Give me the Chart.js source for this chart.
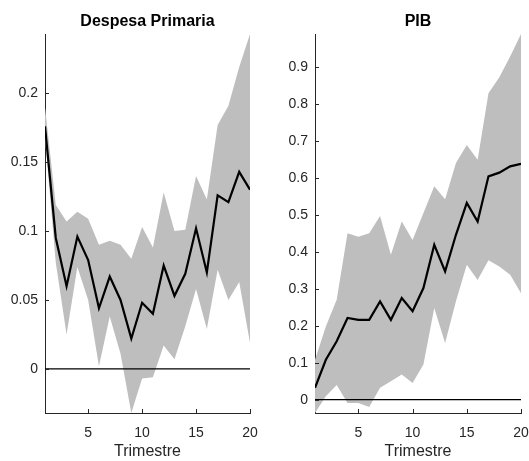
<!DOCTYPE html>
<html>
<head>
<meta charset="utf-8">
<script src="https://cdn.jsdelivr.net/npm/chart.js@4"></script>
<style>
  body { margin: 0; background: #fff; }
  #wrap { position: relative; width: 529px; height: 461px; }
  canvas { position: absolute; top: 0; }
  #left-chart { left: 0; }
  #right-chart { left: 265px; }
</style>
</head>
<body>
<div id="wrap">
  <canvas id="left-chart" width="265" height="461"></canvas>
  <canvas id="right-chart" width="264" height="461"></canvas>
</div>
<script>
// Impulse responses (median + band), quarters 1..20
const trimestres = [1, 2, 3, 4, 5, 6, 7, 8, 9, 10, 11, 12, 13, 14, 15, 16, 17, 18, 19, 20];
const xTicks = [5, 10, 15, 20];

// Despesa Primaria
const despesaMedian = [0.176, 0.095, 0.060, 0.096, 0.079, 0.044, 0.067, 0.050, 0.022, 0.048, 0.040, 0.075, 0.053, 0.069, 0.102, 0.070, 0.126, 0.121, 0.143, 0.130];
const despesaUpper  = [0.190, 0.119, 0.107, 0.114, 0.109, 0.090, 0.093, 0.090, 0.080, 0.103, 0.088, 0.128, 0.100, 0.101, 0.140, 0.123, 0.177, 0.191, 0.219, 0.243];
const despesaLower  = [0.168, 0.077, 0.025, 0.074, 0.050, 0.002, 0.038, 0.011, -0.032, -0.007, -0.006, 0.017, 0.007, 0.031, 0.058, 0.029, 0.072, 0.050, 0.063, 0.019];
const despesaYTicks = [0, 0.05, 0.1, 0.15, 0.2];
const despesaYLabels = ['0', '0.05', '0.1', '0.15', '0.2'];

// PIB
const pibMedian = [0.032, 0.108, 0.158, 0.221, 0.216, 0.216, 0.266, 0.216, 0.275, 0.239, 0.302, 0.419, 0.347, 0.446, 0.532, 0.482, 0.604, 0.614, 0.631, 0.638];
const pibUpper  = [0.108, 0.198, 0.270, 0.450, 0.441, 0.450, 0.497, 0.392, 0.482, 0.432, 0.505, 0.577, 0.542, 0.640, 0.689, 0.649, 0.829, 0.872, 0.928, 0.989];
const pibLower  = [-0.036, 0.009, 0.040, -0.009, -0.009, -0.020, 0.032, 0.050, 0.068, 0.045, 0.095, 0.248, 0.153, 0.266, 0.365, 0.324, 0.377, 0.360, 0.338, 0.288];
const pibYTicks = [0, 0.1, 0.2, 0.3, 0.4, 0.5, 0.6, 0.7, 0.8, 0.9];
const pibYLabels = ['0', '0.1', '0.2', '0.3', '0.4', '0.5', '0.6', '0.7', '0.8', '0.9'];

const AXIS_COLOR = '#262626';
const BAND_COLOR = '#bebebe';
const FONT = '"Liberation Sans", Arial, sans-serif';
Chart.defaults.font.family = FONT;

function toPoints(values) {
    return trimestres.map((t, i) => ({ x: t, y: values[i] }));
}

// MATLAB style ticks pointing into the plot area, title centred on the axes
const matlabAxes = {
    id: 'matlabAxes',
    afterDatasetsDraw(chart, args, opts) {
        const ctx = chart.ctx;
        const area = chart.chartArea;
        const xs = chart.scales.x, ys = chart.scales.y;
        ctx.save();
        ctx.strokeStyle = AXIS_COLOR;
        ctx.lineWidth = 1;
        ctx.beginPath();
        xs.ticks.forEach(t => {
            const px = Math.round(xs.getPixelForValue(t.value)) + 0.5;
            ctx.moveTo(px, area.bottom);
            ctx.lineTo(px, area.bottom - 4);
        });
        ys.ticks.forEach(t => {
            const py = Math.round(ys.getPixelForValue(t.value)) + 0.5;
            ctx.moveTo(area.left, py);
            ctx.lineTo(area.left + 4, py);
        });
        ctx.stroke();

        ctx.fillStyle = '#000';
        ctx.font = 'bold 16px ' + FONT;
        ctx.textAlign = 'center';
        ctx.textBaseline = 'middle';
        ctx.fillText(opts.text, (area.left + area.right) / 2, 22);
        ctx.restore();
    }
};

function makeChart(canvasId, title, median, upper, lower, yTicks, yLabels, yWidth, padRight) {
    const ctx = document.getElementById(canvasId).getContext('2d');
    return new Chart(ctx, {
        type: 'line',
        data: {
            datasets: [
                {
                    data: toPoints(median),
                    borderColor: '#000',
                    borderWidth: 2.2,
                    pointRadius: 0,
                    fill: false,
                    tension: 0,
                    order: 0
                },
                {
                    data: [{ x: 1, y: 0 }, { x: 20, y: 0 }],
                    borderColor: '#000',
                    borderWidth: 1.2,
                    pointRadius: 0,
                    fill: false,
                    order: 1
                },
                {
                    data: toPoints(upper),
                    borderWidth: 0,
                    borderColor: 'rgba(0,0,0,0)',
                    backgroundColor: BAND_COLOR,
                    pointRadius: 0,
                    fill: '+1',
                    order: 2
                },
                {
                    data: toPoints(lower),
                    borderWidth: 0,
                    borderColor: 'rgba(0,0,0,0)',
                    pointRadius: 0,
                    fill: false,
                    order: 3
                }
            ]
        },
        options: {
            responsive: false,
            animation: false,
            layout: { padding: { left: 0, right: padRight, top: 34, bottom: 0 } },
            plugins: {
                legend: { display: false },
                tooltip: { enabled: false },
                title: { display: false },
                matlabAxes: { text: title }
            },
            scales: {
                x: {
                    type: 'linear',
                    min: 1,
                    max: 20,
                    afterBuildTicks: scale => { scale.ticks = xTicks.map(v => ({ value: v })); },
                    afterFit: scale => {
                        scale.height = 48;
                        scale.paddingLeft = 0;
                        scale.paddingRight = 0;
                    },
                    grid: { display: false, drawTicks: false },
                    border: { display: true, color: AXIS_COLOR, width: 1 },
                    ticks: { color: AXIS_COLOR, font: { size: 14 }, padding: 12, maxRotation: 0 },
                    title: {
                        display: true,
                        text: 'Trimestre',
                        color: AXIS_COLOR,
                        font: { size: 16 },
                        padding: { top: 0, bottom: 0 }
                    }
                },
                y: {
                    type: 'linear',
                    min: Math.min(...lower),
                    max: Math.max(...upper),
                    afterBuildTicks: scale => { scale.ticks = yTicks.map(v => ({ value: v })); },
                    afterFit: scale => {
                        scale.width = yWidth;
                        scale.paddingTop = 0;
                        scale.paddingBottom = 0;
                    },
                    grid: { display: false, drawTicks: false },
                    border: { display: true, color: AXIS_COLOR, width: 1 },
                    ticks: {
                        color: AXIS_COLOR,
                        font: { size: 14 },
                        padding: 7,
                        callback: value => yLabels[yTicks.indexOf(value)]
                    }
                }
            }
        },
        plugins: [matlabAxes]
    });
}

makeChart('left-chart', 'Despesa Primaria', despesaMedian, despesaUpper, despesaLower, despesaYTicks, despesaYLabels, 45, 15);
makeChart('right-chart', 'PIB', pibMedian, pibUpper, pibLower, pibYTicks, pibYLabels, 50, 8);
</script>
</body>
</html>
